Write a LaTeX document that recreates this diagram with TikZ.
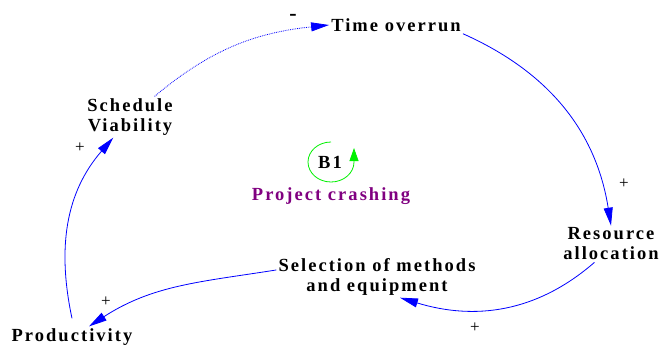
\documentclass[tikz,border=0pt]{standalone}
\usepackage{fontspec}
\setmainfont{Liberation Serif}
\newfontfamily\varfont[LetterSpace=11]{Liberation Serif}
\usetikzlibrary{arrows.meta}
\definecolor{linkblue}{RGB}{0,0,255}
\definecolor{loopgreen}{RGB}{0,240,0}
\definecolor{loopname}{RGB}{128,0,128}

\begin{document}
\begin{tikzpicture}[x=1pt,y=1pt,>={Triangle[length=18pt,width=9pt]},
 var/.style={align=center,inner sep=2pt,font=\varfont\bfseries\fontsize{18.5}{20}\selectfont},
 link/.style={->,draw=linkblue,line width=0.8pt},
 sign/.style={inner sep=0pt,font=\fontsize{17}{19}\selectfont}]
\useasboundingbox (0,0) rectangle (660,346);
% variables
\node[var] (time) at (396,321) {Time overrun};
\node[var] (sched) at (130,229) {Schedule\\Viability};
\node[var] (res) at (611,102) {Resource\\allocation};
\node[var] (sel) at (377,69) {Selection of methods\\and equipment};
\node[var] (prod) at (72,9) {Productivity};
% loop
\node[var] (b1) at (330,184) {B1};
\node[var,text=loopname] (crash) at (331,150) {Project crashing};
\draw[draw=loopgreen,line width=0.8pt,-{Triangle[length=13pt,width=9pt]}]
 ([xshift=1pt,yshift=20pt]b1.center) arc[start angle=90,end angle=360,x radius=23,y radius=20] -- ++(0,14);
% links
\draw[link,densely dotted] (sched.40) to[out=40,in=186] (time.west);
\draw[link] (time.south east) to[out=-24,in=99] (res.north);
\draw[link] (res.228) to[out=221,in=-17] (sel.-42);
\draw[link] (sel.176) to[out=189,in=33] (prod.32);
\draw[link] ([yshift=8pt]prod.north) to[out=102,in=229] (sched.231);
% polarities
\node[sign,font=\bfseries\fontsize{22}{24}\selectfont] (m1) at (293,329) {-};
\node[sign] (p1) at (80,198) {+};
\node[sign] (p2) at (624,162) {+};
\node[sign] (p3) at (475,18) {+};
\node[sign] (p4) at (106,44) {+};
\end{tikzpicture}
\end{document}
